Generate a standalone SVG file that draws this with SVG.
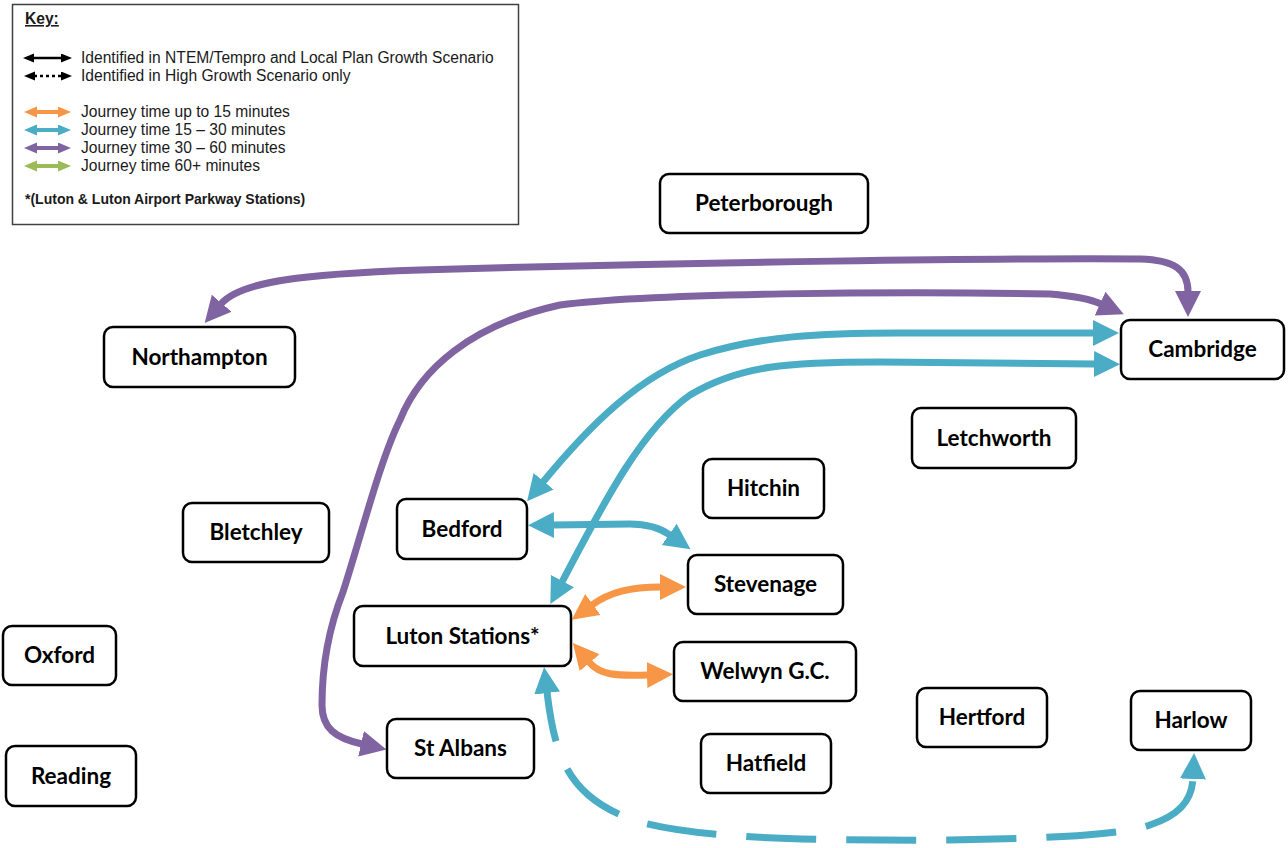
<svg xmlns="http://www.w3.org/2000/svg" width="1288" height="848" viewBox="0 0 1288 848">
<style>
.node rect{fill:#fff;stroke:#000;stroke-width:2.5}
.node text{font-family:Lato,"Open Sans","Liberation Sans",sans-serif;font-weight:700;font-size:22.5px;fill:#000;text-anchor:middle}
.key text{font-family:"Liberation Sans",Arial,sans-serif;font-size:15.6px;fill:#1a1a1a}
.key text.bold{font-weight:700}
.key text.foot{font-weight:700;font-size:14px}
.conn path{fill:none;stroke-width:7}
.p{stroke:#8064A2}
.b{stroke:#4BACC6}
.o{stroke:#F79646}
</style>
<defs>
<marker id="aP" markerUnits="userSpaceOnUse" markerWidth="28" markerHeight="28" refX="1" refY="13" orient="auto-start-reverse"><path d="M0,0 L26,13 L0,26 z" fill="#8064A2"/></marker>
<marker id="aB" markerUnits="userSpaceOnUse" markerWidth="28" markerHeight="28" refX="1" refY="13" orient="auto-start-reverse"><path d="M0,0 L26,13 L0,26 z" fill="#4BACC6"/></marker>
<marker id="aO" markerUnits="userSpaceOnUse" markerWidth="28" markerHeight="28" refX="1" refY="13" orient="auto-start-reverse"><path d="M0,0 L26,13 L0,26 z" fill="#F79646"/></marker>
<marker id="kK" markerUnits="userSpaceOnUse" markerWidth="12" markerHeight="10" refX="1" refY="4.5" orient="auto-start-reverse"><path d="M0,0 L11,4.5 L0,9 z" fill="#000"/></marker>
<marker id="kO" markerUnits="userSpaceOnUse" markerWidth="14" markerHeight="12" refX="1" refY="5.5" orient="auto-start-reverse"><path d="M0,0 L13,5.5 L0,11 z" fill="#F79646"/></marker>
<marker id="kB" markerUnits="userSpaceOnUse" markerWidth="14" markerHeight="12" refX="1" refY="5.5" orient="auto-start-reverse"><path d="M0,0 L13,5.5 L0,11 z" fill="#4BACC6"/></marker>
<marker id="kP" markerUnits="userSpaceOnUse" markerWidth="14" markerHeight="12" refX="1" refY="5.5" orient="auto-start-reverse"><path d="M0,0 L13,5.5 L0,11 z" fill="#8064A2"/></marker>
<marker id="kG" markerUnits="userSpaceOnUse" markerWidth="14" markerHeight="12" refX="1" refY="5.5" orient="auto-start-reverse"><path d="M0,0 L13,5.5 L0,11 z" fill="#9BBB59"/></marker>
</defs>
<rect width="1288" height="848" fill="#fff"/>

<g id="key" class="key">
<rect x="12.5" y="4.5" width="506" height="220" fill="#fff" stroke="#404040" stroke-width="1.5"/>
<text class="bold" x="25" y="24" text-decoration="underline">Key:</text>
<path d="M33 58 L62 58" stroke="#000" stroke-width="2.5" marker-start="url(#kK)" marker-end="url(#kK)"/>
<text x="81" y="63">Identified in NTEM/Tempro and Local Plan Growth Scenario</text>
<path d="M34 76 L62 76" stroke="#000" stroke-width="2.5" stroke-dasharray="3 3" marker-start="url(#kK)" marker-end="url(#kK)"/>
<text x="81" y="81">Identified in High Growth Scenario only</text>
<path d="M36 112 L59 112" stroke="#F79646" stroke-width="4" marker-start="url(#kO)" marker-end="url(#kO)"/>
<text x="81" y="117">Journey time up to 15 minutes</text>
<path d="M36 130 L59 130" stroke="#4BACC6" stroke-width="4" marker-start="url(#kB)" marker-end="url(#kB)"/>
<text x="81" y="135">Journey time 15 – 30 minutes</text>
<path d="M36 148 L59 148" stroke="#8064A2" stroke-width="4" marker-start="url(#kP)" marker-end="url(#kP)"/>
<text x="81" y="153">Journey time 30 – 60 minutes</text>
<path d="M36 166 L59 166" stroke="#9BBB59" stroke-width="4" marker-start="url(#kG)" marker-end="url(#kG)"/>
<text x="81" y="171">Journey time 60+ minutes</text>
<text class="foot" x="25" y="204">*(Luton &amp; Luton Airport Parkway Stations)</text>
</g>

<g id="connectors" class="conn">
<path class="p" d="M221 304 C240 282 300 274 420 270 C700 262 1000 258 1140 259 C1175 260 1188 270 1188 292" marker-start="url(#aP)" marker-end="url(#aP)"/>
<path class="p" d="M362 744 C335 738 322 728 322 705 C322 670 328 630 343 592 C360 540 380 460 400 420 C420 370 470 325 560 305 C650 293 900 291 1050 294 C1075 296 1090 299 1101 304" marker-start="url(#aP)" marker-end="url(#aP)"/>
<path class="b" d="M543 482 C590 425 640 375 700 355 C760 336 820 333 900 333 L1094 333" marker-start="url(#aB)" marker-end="url(#aB)"/>
<path class="b" d="M562 582 C600 510 640 430 690 395 C740 365 790 362 880 362 L1095 364" marker-start="url(#aB)" marker-end="url(#aB)"/>
<path class="b" d="M553 525 L630 524 C648 524 660 528 670 535" marker-start="url(#aB)" marker-end="url(#aB)"/>
<path class="o" d="M592 605 C610 592 630 587 661 587" marker-start="url(#aO)" marker-end="url(#aO)"/>
<path class="o" d="M589 662 C600 675 615 676 648 675" marker-start="url(#aO)" marker-end="url(#aO)"/>
<path class="b" stroke-width="8" stroke-dasharray="70 30" stroke-dashoffset="20" d="M547 692 C555 760 570 800 640 822 C700 838 800 841 950 840 C1060 838 1120 835 1150 825 C1180 815 1192 800 1193 778" marker-start="url(#aB)" marker-end="url(#aB)"/>
</g>

<g id="peterborough" class="node"><rect x="660" y="174" width="208" height="59" rx="9"/><text x="764" y="211">Peterborough</text></g>
<g id="northampton" class="node"><rect x="104" y="327" width="191" height="60" rx="9"/><text x="199.5" y="364.5">Northampton</text></g>
<g id="cambridge" class="node"><rect x="1121" y="320" width="163" height="59" rx="9"/><text x="1202.5" y="357">Cambridge</text></g>
<g id="letchworth" class="node"><rect x="912" y="408" width="164" height="60" rx="9"/><text x="994" y="445.5">Letchworth</text></g>
<g id="hitchin" class="node"><rect x="703" y="459" width="121" height="59" rx="9"/><text x="763.5" y="496">Hitchin</text></g>
<g id="bedford" class="node"><rect x="397" y="499" width="130" height="60" rx="9"/><text x="462" y="536.5">Bedford</text></g>
<g id="bletchley" class="node"><rect x="183" y="503" width="146" height="59" rx="9"/><text x="256" y="540">Bletchley</text></g>
<g id="stevenage" class="node"><rect x="688" y="555" width="155" height="59" rx="9"/><text x="765.5" y="592">Stevenage</text></g>
<g id="luton" class="node"><rect x="354" y="606" width="217" height="60" rx="9"/><text x="462.5" y="643.5">Luton Stations*</text></g>
<g id="oxford" class="node"><rect x="3" y="626" width="113" height="59" rx="9"/><text x="59.5" y="663">Oxford</text></g>
<g id="welwyn" class="node"><rect x="674" y="642" width="182" height="59" rx="9"/><text x="765" y="679">Welwyn G.C.</text></g>
<g id="hertford" class="node"><rect x="917" y="688" width="130" height="59" rx="9"/><text x="982" y="725">Hertford</text></g>
<g id="harlow" class="node"><rect x="1131" y="691" width="120" height="59" rx="9"/><text x="1191" y="728">Harlow</text></g>
<g id="stalbans" class="node"><rect x="387" y="719" width="147" height="59" rx="9"/><text x="460.5" y="756">St Albans</text></g>
<g id="reading" class="node"><rect x="6" y="746" width="130" height="60" rx="9"/><text x="71" y="783.5">Reading</text></g>
<g id="hatfield" class="node"><rect x="701" y="734" width="130" height="59" rx="9"/><text x="766" y="771">Hatfield</text></g>
</svg>
